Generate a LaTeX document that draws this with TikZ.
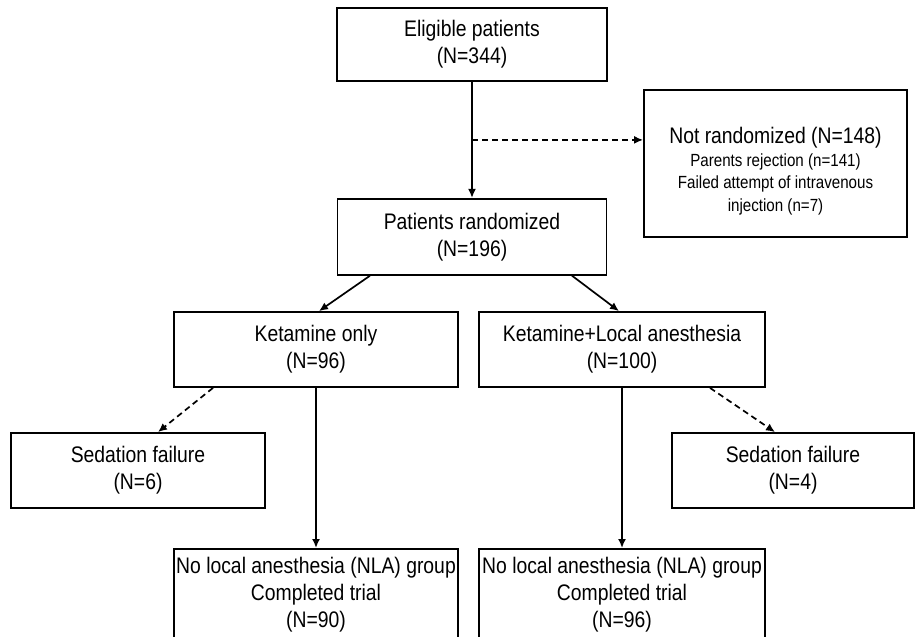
\documentclass[tikz,border=0pt]{standalone}
\usepackage{fontspec}
\setmainfont{Liberation Sans}[FakeStretch=0.86]
\usetikzlibrary{arrows.meta,positioning,calc}

\begin{document}
\begin{tikzpicture}[x=1pt,y=-1pt]

  \tikzstyle{every node}=[font=\fontsize{22.5}{27}\selectfont]

  \tikzset{stage/.style={draw,line width=1.8pt,align=center,inner sep=0pt},
    myarrow/.style={line width=1.7pt,-{Latex[length=9pt,width=8pt]}},
    mydashed/.style={myarrow,dash pattern=on 6pt off 4pt}}

  \useasboundingbox (0,0) rectangle (916,637);

  % Enrolment
  \node[stage,minimum width=270pt,minimum height=73pt] (Eligible) at (472,44.5) {Eligible patients\\(N=344)};
  \node[stage,minimum width=263pt,minimum height=147pt,font=\fontsize{17.6}{22.5}\selectfont] (Not randomized) at (775.5,163.5)
    {\rule{0pt}{32pt}{\fontsize{22.5}{27}\selectfont Not randomized (N=148)}\\Parents rejection (n=141)\\Failed attempt of intravenous\\injection (n=7)};
  \node[stage,minimum width=269pt,minimum height=76pt,below=116pt of Eligible] (Randomized) {Patients randomized\\(N=196)};

  % Allocation
  \node[stage,minimum width=284pt,minimum height=75pt] (Ketamine only) at (316,349.5) {Ketamine only\\(N=96)};
  \node[stage,minimum width=286pt,minimum height=75pt] (Ketamine LA) at (622,349.5) {Ketamine+Local anesthesia\\(N=100)};

  % Sedation failures
  \node[stage,minimum width=254pt,minimum height=75pt] (Failure KO) at (138,470.5) {Sedation failure\\(N=6)};
  \node[stage,minimum width=242pt,minimum height=75pt] (Failure KLA) at (793,470.5) {Sedation failure\\(N=4)};

  % Completed trial
  \node[stage,minimum width=284pt,minimum height=92pt,anchor=north] (Completed KO) at (316,548) {No local anesthesia (NLA) group\\Completed trial\\(N=90)};
  \node[stage,minimum width=286pt,minimum height=92pt,anchor=north] (Completed KLA) at (622,548) {No local anesthesia (NLA) group\\Completed trial\\(N=96)};

  % Connectors
  \draw[myarrow] (Eligible) -- (Randomized);
  \coordinate (split) at ($(Eligible.south)!0.5!(Randomized.north)$);
  \draw[mydashed] (split) -- (split -| Not randomized.west);

  \draw[myarrow] ($(Randomized.south)+(-102,0)$) -- ($(Ketamine only.north)+(3,0)$);
  \draw[myarrow] ($(Randomized.south)+(100,0)$) -- ($(Ketamine LA.north)+(-3,0)$);

  \draw[mydashed] ($(Ketamine only.south)+(-103,0)$) -- ($(Failure KO.north)+(20,0)$);
  \draw[mydashed] ($(Ketamine LA.south)+(88,0)$) -- ($(Failure KLA.north)+(-18,0)$);

  \draw[myarrow] (Ketamine only) -- (Completed KO);
  \draw[myarrow] (Ketamine LA) -- (Completed KLA);

\end{tikzpicture}
\end{document}
